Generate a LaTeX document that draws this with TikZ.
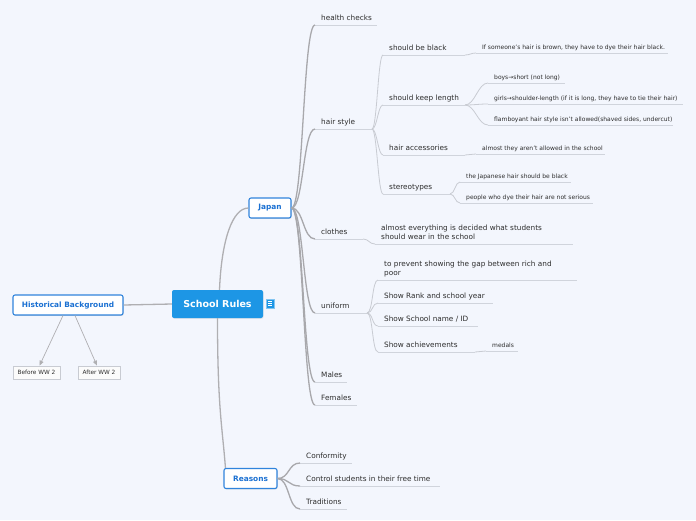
\documentclass[tikz,border=0pt]{standalone}
\usepackage{fontspec}
\setmainfont{DejaVu Sans}
\usetikzlibrary{arrows.meta, shadows}
\definecolor{bgcolor}{RGB}{243,246,253}
\definecolor{rootcolor}{RGB}{29,150,229}
\definecolor{topiccolor}{RGB}{48,132,220}
\definecolor{topictext}{RGB}{26,112,210}
\definecolor{trunkcolor}{RGB}{175,175,178}
\definecolor{branchcolor}{RGB}{168,168,172}
\definecolor{twigcolor}{RGB}{200,203,210}
\definecolor{ulinecolor}{RGB}{208,212,220}
\definecolor{leaftext}{RGB}{45,45,45}

\begin{document}
\begin{tikzpicture}[
	x=1pt, y=-1pt,
	root/.style={
		rectangle,
		rounded corners=2pt,
		fill=rootcolor,
		text=white,
		minimum width=91pt,
		minimum height=28pt,
		font=\fontsize{9.5}{11}\selectfont\bfseries,
		drop shadow={opacity=0.15, shadow xshift=0.6pt, shadow yshift=-0.8pt}
	},
	topic/.style={
		rectangle,
		rounded corners=2pt,
		fill=white,
		draw=topiccolor,
		line width=1.1pt,
		text=topictext,
		minimum height=20pt,
		font=\fontsize{7.4}{9}\selectfont\bfseries,
		drop shadow={opacity=0.25, shadow xshift=0.6pt, shadow yshift=-0.9pt}
	},
	period/.style={
		rectangle,
		fill=white!97!gray,
		draw=twigcolor,
		line width=0.7pt,
		text=leaftext,
		minimum height=13pt,
		inner xsep=2pt,
		font=\fontsize{5.8}{7}\selectfont
	},
	leaf/.style={
		anchor=south west,
		inner xsep=6pt,
		inner ysep=3pt,
		text height=5.2pt,
		text depth=1.6pt,
		text=leaftext,
		font=\fontsize{7.3}{9}\selectfont
	},
	tinyleaf/.style={
		leaf,
		inner ysep=2.4pt,
		text height=4.3pt,
		text depth=1.3pt,
		font=\fontsize{6}{7}\selectfont
	},
	uline/.style={draw=ulinecolor, line width=1pt},
	trunk/.style={draw=trunkcolor, line width=1.3pt},
	branch/.style={draw=branchcolor, line width=1.3pt},
	twig/.style={draw=twigcolor, line width=0.8pt},
	link/.style={draw=trunkcolor, line width=0.7pt, -{Triangle[length=5pt, width=4pt]}},
	mm/.style={to path={.. controls ([xshift=#1]\tikztostart) and ([xshift=-#1]\tikztotarget) .. (\tikztotarget)}},
	mm/.default=12pt
	]

	\fill[bgcolor] (0,0) rectangle (696,520);
	\useasboundingbox (0,0) rectangle (696,520);

	% central topic
	\node[root] (root) at (217.5,304) {School Rules};
	\node[rectangle, fill=rootcolor, draw=rootcolor!55!white, line width=0.5pt,
		minimum width=8pt, minimum height=9pt, inner sep=0pt] (note) at (270,303.5) {};
	\foreach \dy in {-2pt,0pt,2pt}
		\draw[white, line width=0.7pt] ([xshift=-2.2pt, yshift=\dy]note.center) -- ++(4.4,0);

	% main topics
	\node[topic, minimum width=110pt] (hist) at (68,305) {Historical Background};
	\node[topic, minimum width=42pt] (japan) at (270,208) {Japan};
	\node[topic, minimum width=53pt] (reasons) at (250.5,478.5) {Reasons};

	\node[period, minimum width=47pt] (before) at (36.5,372.5) {Before WW 2};
	\node[period, minimum width=42pt] (after) at (99,372.5) {After WW 2};

	% Japan
	\node[leaf] (health) at (315,25) {health checks};
	\node[leaf] (hair) at (315,129) {hair style};
	\node[leaf] (clothes) at (315,239) {clothes};
	\node[leaf] (uniform) at (315,313) {uniform};
	\node[leaf] (males) at (315,382) {Males};
	\node[leaf] (females) at (315,405) {Females};

	% hair style
	\node[leaf] (black) at (383,55) {should be black};
	\node[leaf] (length) at (383,105) {should keep length};
	\node[leaf] (access) at (383,155) {hair accessories};
	\node[leaf] (stereo) at (383,194) {stereotypes};

	\node[tinyleaf] (brown) at (476,53) {If someone's hair is brown, they have to dye their hair black.};
	\node[tinyleaf] (boys) at (488,83) {boys→short (not long)};
	\node[tinyleaf] (girls) at (488,104) {girls→shoulder-length (if it is long, they have to tie their hair)};
	\node[tinyleaf] (flamboyant) at (488,125) {flamboyant hair style isn't allowed(shaved sides, undercut)};
	\node[tinyleaf] (allowed) at (476,154) {almost they aren't allowed in the school};
	\node[tinyleaf] (japhair) at (460,182) {the Japanese hair should be black};
	\node[tinyleaf] (dyed) at (460,203) {people who dye their hair are not serious};

	% clothes and uniform
	\node[leaf, text width=180pt, align=left, text depth=10.6pt] (wear) at (375,244)
		{almost everything is decided what students\\should wear in the school};
	\node[leaf, text width=185pt, align=left, text depth=10.6pt] (gap) at (378,280)
		{to prevent showing the gap between rich and\\poor};
	\node[leaf] (rank) at (378,303) {Show Rank and school year};
	\node[leaf] (idnum) at (378,326) {Show School name / ID};
	\node[leaf] (achieve) at (378,352) {Show achievements};
	\node[tinyleaf] (medals) at (486,351) {medals};

	% Reasons
	\node[leaf] (conform) at (300,463) {Conformity};
	\node[leaf] (control) at (300,486) {Control students in their free time};
	\node[leaf] (trad) at (300,509) {Traditions};

	% underlines
	\foreach \n/\w in {health/62, hair/57, clothes/48, uniform/52, males/32, females/42,
		black/82, length/82, access/82, stereo/67,
		brown/192, boys/77, girls/195, flamboyant/185, allowed/129, japhair/111, dyed/133,
		wear/198, gap/199, rank/115, idnum/100, achieve/97, medals/32,
		conform/52, control/140, trad/47}
		\draw[uline] (\n.south west) -- ++(\w,0) coordinate (\n-end);

	% connectors
	\draw[trunk] (hist.east) -- (root.west);
	\draw[trunk] ([xshift=2pt]root.north) .. controls ([xshift=4pt, yshift=50pt]root.north)
		and ([xshift=-16pt]japan.west) .. (japan.west);
	\draw[trunk] (root.south) .. controls ([yshift=-90pt]root.south)
		and ([xshift=-1pt, yshift=40pt]reasons.north west) .. ([xshift=2pt]reasons.north west);
	\draw[link] ([xshift=-5pt]hist.south) -- ([xshift=3pt]before.north);
	\draw[link] ([xshift=7pt]hist.south) -- ([xshift=-2pt]after.north);

	\foreach \n in {health, hair, clothes, uniform, males, females}
		\draw[branch] (japan.east) to[mm] (\n.south west);
	\foreach \n in {black, length, access, stereo}
		\draw[twig] (hair-end) to[mm=5pt] (\n.south west);
	\draw[twig] (black-end) to[mm=5pt] (brown.south west);
	\foreach \n in {boys, girls, flamboyant}
		\draw[twig] (length-end) to[mm=10pt] (\n.south west);
	\draw[twig] (access-end) to[mm=5pt] (allowed.south west);
	\foreach \n in {japhair, dyed}
		\draw[twig] (stereo-end) to[mm=5pt] (\n.south west);
	\draw[twig] (clothes-end) to[mm=6pt] (wear.south west);
	\foreach \n in {gap, rank, idnum, achieve}
		\draw[twig] (uniform-end) to[mm=6pt] (\n.south west);
	\draw[twig] (achieve-end) to[mm=5pt] (medals.south west);
	\foreach \n in {conform, control, trad}
		\draw[branch] (reasons.east) to[mm] (\n.south west);

\end{tikzpicture}
\end{document}
